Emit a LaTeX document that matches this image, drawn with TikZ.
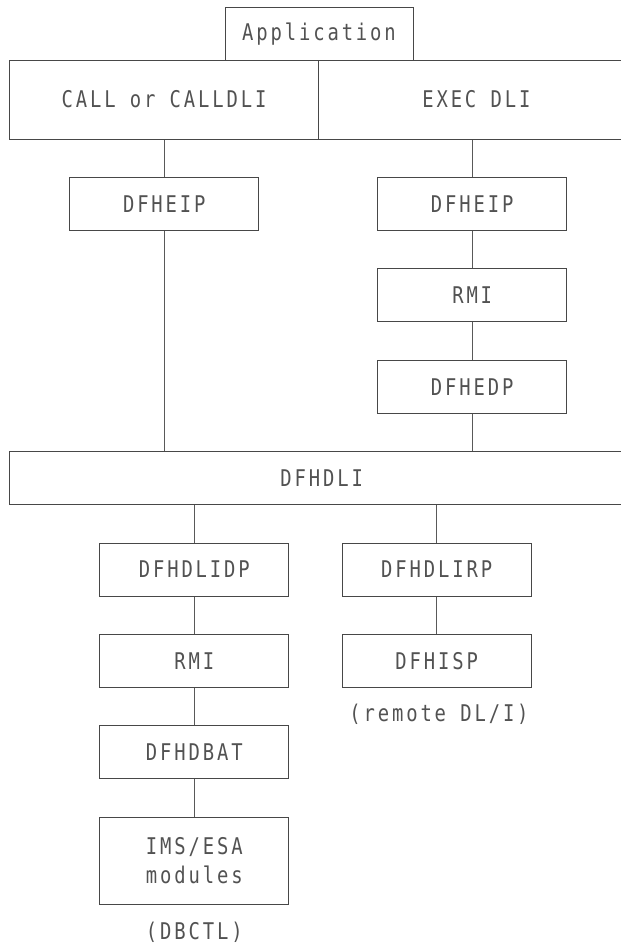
\documentclass[tikz,border=0pt]{standalone}
\usepackage{fontspec}
\newfontfamily\diagfont[FakeStretch=0.82,LetterSpace=12.5]{DejaVu Sans Mono}
\begin{document}
\begin{tikzpicture}[x=1pt,y=-1pt,
  lbl/.style={font=\diagfont\fontsize{23}{29}\selectfont, text=black!68},
  box/.style={lbl, draw=black!72, line width=1pt, inner sep=0pt,
    minimum width=188.7pt, minimum height=53pt, align=center},
  conn/.style={draw=black!65, line width=1pt}]
\useasboundingbox (0,0) rectangle (621,945);
% top
\node[box, minimum width=188pt, minimum height=52.7pt] (app) at (319,33.7) {Application};
\node[box, minimum width=309.4pt, minimum height=79pt] (callbox) at (164,99.5) {CALL or CALLDLI};
\node[box, minimum width=315.3pt, minimum height=79pt] (execbox) at (476.35,99.5) {EXEC DLI};
% upper columns
\node[box] (eipl) at (164.3,203.8) {DFHEIP};
\node[box] (eipr) at (472.2,203.8) {DFHEIP};
\node[box] (rmir) at (472.2,295.2) {RMI};
\node[box] (edp) at (472.2,386.8) {DFHEDP};
% DFHDLI
\node[box, minimum width=624.7pt, minimum height=52.6pt] (dli) at (321.65,478) {DFHDLI};
% lower columns
\node[box] (dlidp) at (194.3,569.5) {DFHDLIDP};
\node[box] (rmil) at (194.3,660.8) {RMI};
\node[box] (dbat) at (194.3,752.3) {DFHDBAT};
\node[box, minimum height=87pt] (ims) at (194.3,860.8) {IMS/ESA\\modules};
\node[lbl] (dbctl) at (194.3,932) {(DBCTL)};
\node[box] (dlirp) at (436.7,569.5) {DFHDLIRP};
\node[box] (isp) at (436.7,660.8) {DFHISP};
\node[lbl] (remote) at (439,714) {(remote DL/I)};
% connectors
\draw[conn] (eipl.north |- callbox.south) -- (eipl.north);
\draw[conn] (eipl.south) -- (eipl.south |- dli.north);
\draw[conn] (eipr.north |- execbox.south) -- (eipr.north);
\draw[conn] (eipr.south) -- (rmir.north);
\draw[conn] (rmir.south) -- (edp.north);
\draw[conn] (edp.south) -- (edp.south |- dli.north);
\draw[conn] (dlidp.north |- dli.south) -- (dlidp.north);
\draw[conn] (dlidp.south) -- (rmil.north);
\draw[conn] (rmil.south) -- (dbat.north);
\draw[conn] (dbat.south) -- (ims.north);
\draw[conn] (dlirp.north |- dli.south) -- (dlirp.north);
\draw[conn] (dlirp.south) -- (isp.north);
\end{tikzpicture}
\end{document}
